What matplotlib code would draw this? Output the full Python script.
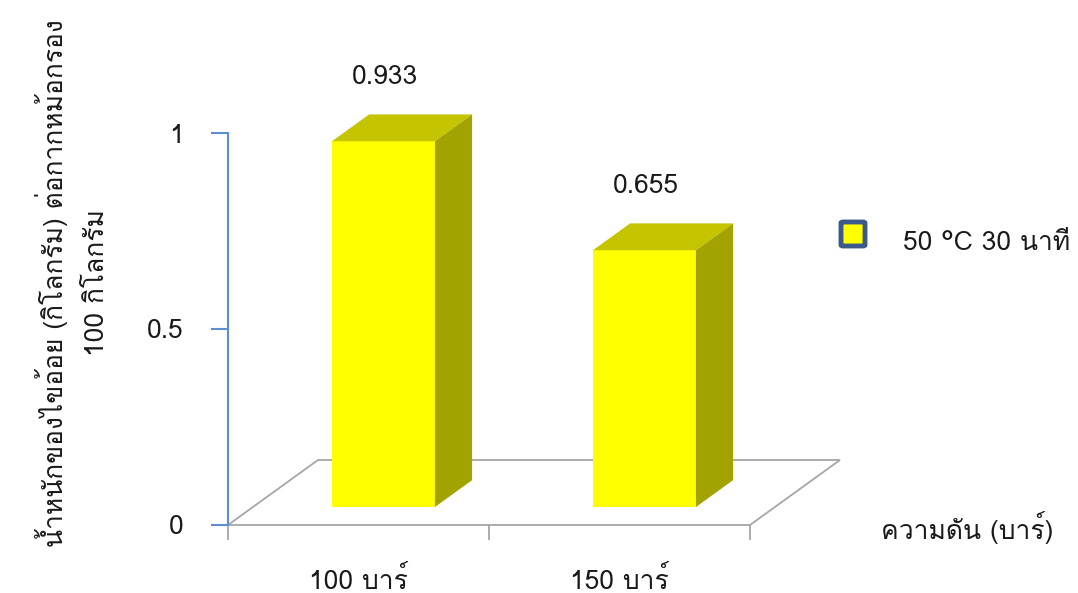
import matplotlib
matplotlib.use("Agg")
import matplotlib.pyplot as plt
from matplotlib import font_manager
from matplotlib.ft2font import FT2Font
from matplotlib.patches import Polygon, FancyBboxPatch

# ---------------- data ----------------
categories = ["100 บาร์", "150 บาร์"]
values = [0.933, 0.655]
value_labels = ["0.933", "0.655"]
yticks = [0, 0.5, 1]
ytick_labels = ["0", "0.5", "1"]
series_name = "50 °C 30 นาที"
xlabel = "ความดัน (บาร์)"
ylabel = "น้ำหนักของไขอ้อย (กิโลกรัม) ต่อกากหม้อกรอง\n100 กิโลกรัม"

# ---------------- font with Thai ----------------
thai_fams = []
for f in font_manager.fontManager.ttflist:
    try:
        ft = FT2Font(f.fname)
        if ft.get_char_index(0x0E01) and ft.get_char_index(0x0E49):
            if f.name not in thai_fams:
                thai_fams.append(f.name)
    except Exception:
        pass
families = thai_fams[:1] + ["DejaVu Sans"]
plt.rcParams["font.family"] = families

FS = 19
TXT = "#1a1a1a"
W, H, DPI = 1078, 593, 100
fig = plt.figure(figsize=(W / DPI, H / DPI), dpi=DPI)

# axes placement in pixels
x0_px, x1_px = 228, 838
y0_px, y1_px = 525, 133
ax = fig.add_axes([x0_px / W, (H - y0_px) / H, (x1_px - x0_px) / W, (y0_px - y1_px) / H])
px_per_x = 261.0
ax.set_xlim(0, (x1_px - x0_px) / px_per_x)
ax.set_ylim(0, 1)
ax.patch.set_alpha(0)

# 3D geometry (in data units)
n = len(categories)
depth_dx = 90 / px_per_x
depth_dy = 65 / 392.0
bar_w = 103 / px_per_x
d_front, d_back = 0.277, 0.69

floor_col = "#A6A6A6"
fl = [(0, 0), (n, 0), (n + depth_dx, depth_dy), (depth_dx, depth_dy)]
ax.add_patch(Polygon(fl, closed=True, fill=False, edgecolor=floor_col, lw=1.3, clip_on=False, zorder=1))
for i in range(n + 1):
    ax.plot([i, i], [0, -14 / 392], color=floor_col, lw=1.3, clip_on=False, zorder=1)

front_c, top_c, side_c = "#FFFF00", "#C4C400", "#A3A300"
for i, v in enumerate(values):
    cx = i + 0.5
    fx = cx - bar_w / 2 + d_front * depth_dx
    fy = d_front * depth_dy
    bx = cx - bar_w / 2 + d_back * depth_dx
    by = d_back * depth_dy
    ax.add_patch(Polygon([(fx, fy), (fx + bar_w, fy), (fx + bar_w, fy + v), (fx, fy + v)],
                         closed=True, facecolor=front_c, edgecolor="none", clip_on=False, zorder=3))
    ax.add_patch(Polygon([(fx, fy + v), (fx + bar_w, fy + v), (bx + bar_w, by + v), (bx, by + v)],
                         closed=True, facecolor=top_c, edgecolor="none", clip_on=False, zorder=3))
    ax.add_patch(Polygon([(fx + bar_w, fy), (bx + bar_w, by), (bx + bar_w, by + v), (fx + bar_w, fy + v)],
                         closed=True, facecolor=side_c, edgecolor="none", clip_on=False, zorder=3))
    ax.text(cx + 0.1, by + v + 0.095, value_labels[i],
            ha="center", va="center", fontsize=FS, color=TXT, clip_on=False)
    ax.text(cx, -0.14, categories[i], ha="center", va="center", fontsize=FS, color=TXT, clip_on=False)

# y axis
for s in ["top", "right", "bottom"]:
    ax.spines[s].set_visible(False)
ax.spines["left"].set_color("#5B8FD0")
ax.spines["left"].set_linewidth(1.5)
ax.set_yticks(yticks)
ax.set_yticklabels(ytick_labels, fontsize=FS, color=TXT)
ax.tick_params(axis="y", direction="out", length=12, width=1.5, color="#5B8FD0", pad=20)
ax.set_xticks([])

# axis titles
fig.text(967 / W, 1 - 527 / H, xlabel, ha="center", va="center", fontsize=FS, color=TXT)
fig.text(72 / W, 1 - 283 / H, ylabel, ha="center", va="center", rotation=90, fontsize=FS,
         color=TXT, linespacing=1.9, multialignment="center")

# legend
lx, ly, s = 853, 234, 24
fig.patches.append(FancyBboxPatch(((lx - s / 2) / W, 1 - (ly + s / 2) / H), s / W, s / H,
                                  boxstyle="round,pad=0,rounding_size=0.002",
                                  transform=fig.transFigure, facecolor="#FFFF00",
                                  edgecolor="#3B5A8A", lw=3.5, figure=fig))
fig.text(903 / W, 1 - 243 / H, series_name, ha="left", va="center", fontsize=FS, color=TXT)

fig.savefig("out.png", dpi=DPI, facecolor="white")
